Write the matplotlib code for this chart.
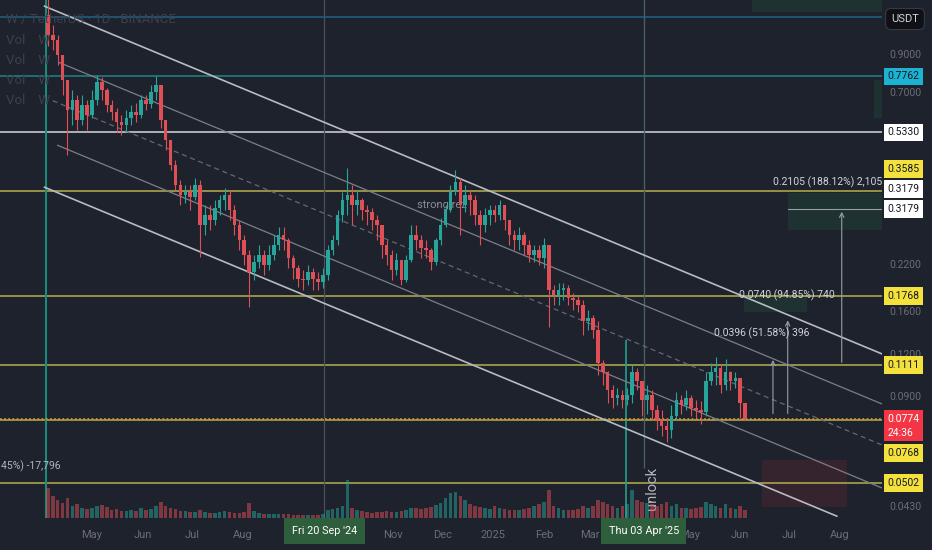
import numpy as np
import pandas as pd
import matplotlib
matplotlib.use("Agg")
import matplotlib.pyplot as plt
import matplotlib.dates as mdates
from matplotlib import font_manager
from matplotlib.patches import Rectangle
from matplotlib.ticker import FixedLocator, NullLocator, FixedFormatter

plt.rcParams['font.family'] = ['Roboto', 'DejaVu Sans']
names = {f.name for f in font_manager.fontManager.ttflist}
NARROW = 'Liberation Sans Narrow' if 'Liberation Sans Narrow' in names else 'Roboto'

BG = '#1e222d'
UP = '#26a69a'
DOWN = '#e04f56'
YEL = '#aaa44c'
TXT = '#6a6d78'

# W/USDT, 3-day candles (Binance)
first_open = 1.17
closes = [1.025, 0.991, 0.896, 0.757, 0.619, 0.662, 0.578, 0.640, 0.598, 0.662,
          0.747, 0.708, 0.640, 0.611, 0.570, 0.559, 0.586, 0.611, 0.598, 0.662,
          0.644, 0.698, 0.732, 0.578, 0.506, 0.427, 0.373, 0.349, 0.356, 0.344,
          0.373, 0.285, 0.305, 0.295, 0.320, 0.338, 0.349, 0.316, 0.285, 0.258,
          0.233, 0.208, 0.222, 0.233, 0.218, 0.233, 0.249, 0.267, 0.258, 0.228,
          0.213, 0.199, 0.197, 0.208, 0.199, 0.194, 0.204, 0.241, 0.258, 0.305,
          0.338, 0.349, 0.326, 0.338, 0.316, 0.311, 0.295, 0.285, 0.249, 0.233,
          0.211, 0.225, 0.197, 0.225, 0.267, 0.258, 0.244, 0.241, 0.222, 0.258,
          0.285, 0.316, 0.356, 0.381, 0.326, 0.349, 0.338, 0.305, 0.285, 0.305,
          0.316, 0.305, 0.326, 0.295, 0.267, 0.258, 0.267, 0.249, 0.233, 0.241,
          0.228, 0.249, 0.184, 0.178, 0.184, 0.187, 0.174, 0.172, 0.166, 0.150,
          0.153, 0.141, 0.113, 0.106, 0.094, 0.089, 0.091, 0.088, 0.091, 0.106,
          0.100, 0.088, 0.091, 0.082, 0.077, 0.074, 0.072, 0.079, 0.088, 0.085,
          0.089, 0.083, 0.082, 0.081, 0.100, 0.106, 0.109, 0.097, 0.106, 0.100,
          0.102, 0.086, 0.0774]
highs = [1.45, 1.096, 1.025, 0.896, 0.757, 0.708, 0.685, 0.685, 0.662, 0.708,
         0.783, 0.772, 0.718, 0.662, 0.626, 0.598, 0.619, 0.640, 0.648, 0.685,
         0.685, 0.732, 0.778, 0.708, 0.578, 0.506, 0.442, 0.386, 0.373, 0.373,
         0.391, 0.386, 0.326, 0.326, 0.338, 0.349, 0.366, 0.361, 0.326, 0.295,
         0.267, 0.241, 0.233, 0.249, 0.241, 0.249, 0.267, 0.281, 0.281, 0.262,
         0.233, 0.218, 0.211, 0.218, 0.213, 0.208, 0.213, 0.249, 0.267, 0.316,
         0.356, 0.419, 0.373, 0.361, 0.342, 0.326, 0.320, 0.305, 0.285, 0.258,
         0.241, 0.237, 0.222, 0.233, 0.285, 0.285, 0.267, 0.258, 0.244, 0.262,
         0.299, 0.326, 0.373, 0.413, 0.391, 0.373, 0.361, 0.349, 0.316, 0.320,
         0.326, 0.326, 0.338, 0.326, 0.295, 0.276, 0.281, 0.272, 0.258, 0.249,
         0.249, 0.262, 0.249, 0.191, 0.193, 0.193, 0.191, 0.181, 0.178, 0.172,
         0.161, 0.156, 0.150, 0.115, 0.107, 0.097, 0.095, 0.094, 0.095, 0.111,
         0.109, 0.100, 0.097, 0.094, 0.085, 0.082, 0.078, 0.085, 0.093, 0.091,
         0.094, 0.091, 0.088, 0.087, 0.106, 0.113, 0.117, 0.111, 0.116, 0.107,
         0.106, 0.102, 0.086]
lows = [0.95, 0.927, 0.838, 0.685, 0.457, 0.559, 0.541, 0.559, 0.541, 0.586,
        0.640, 0.662, 0.611, 0.578, 0.534, 0.524, 0.534, 0.559, 0.570, 0.586,
        0.619, 0.626, 0.662, 0.548, 0.473, 0.413, 0.361, 0.326, 0.331, 0.316,
        0.338, 0.230, 0.267, 0.276, 0.285, 0.305, 0.316, 0.295, 0.267, 0.241,
        0.218, 0.164, 0.197, 0.213, 0.204, 0.211, 0.225, 0.241, 0.241, 0.213,
        0.199, 0.188, 0.184, 0.191, 0.184, 0.184, 0.187, 0.197, 0.233, 0.249,
        0.291, 0.305, 0.285, 0.305, 0.295, 0.285, 0.276, 0.258, 0.228, 0.218,
        0.197, 0.204, 0.191, 0.194, 0.222, 0.241, 0.228, 0.228, 0.211, 0.218,
        0.249, 0.281, 0.311, 0.349, 0.267, 0.311, 0.305, 0.285, 0.249, 0.272,
        0.285, 0.291, 0.295, 0.276, 0.249, 0.241, 0.241, 0.233, 0.222, 0.222,
        0.218, 0.213, 0.144, 0.166, 0.166, 0.172, 0.166, 0.161, 0.159, 0.136,
        0.141, 0.133, 0.104, 0.097, 0.086, 0.083, 0.085, 0.083, 0.085, 0.086,
        0.094, 0.079, 0.080, 0.077, 0.072, 0.069, 0.066, 0.068, 0.077, 0.080,
        0.082, 0.079, 0.078, 0.075, 0.079, 0.097, 0.097, 0.092, 0.094, 0.094,
        0.095, 0.078, 0.077]
# volume, millions of W per bar
volumes = [30, 22, 18, 15, 20, 12, 14, 10, 9, 10,
           12, 13, 11, 8, 9, 7, 7, 8, 7, 10,
           8, 9, 12, 16, 12, 10, 9, 7, 7, 6,
           6, 8, 6, 5, 5, 6, 7, 6, 5, 5,
           6, 15, 7, 5, 4, 4, 4, 4, 4, 4,
           3, 3, 3, 3, 3, 3, 4, 8, 9, 10,
           12, 38, 10, 8, 7, 6, 5, 6, 6, 7,
           6, 6, 7, 8, 10, 10, 9, 10, 11, 13,
           15, 20, 25, 26, 22, 18, 14, 12, 11, 10,
           9, 12, 10, 9, 8, 8, 8, 9, 10, 12,
           14, 16, 28, 12, 10, 8, 8, 8, 9, 12,
           10, 12, 18, 16, 14, 12, 10, 12, 14, 28,
           18, 16, 15, 14, 12, 14, 16, 12, 14, 10,
           10, 9, 10, 11, 16, 14, 12, 10, 14, 10,
           9, 12, 8]
dates = pd.date_range('2024-04-04', periods=len(closes), freq='3D')

# horizontal levels: price, colour
levels = [(1.157, '#1d5e7e'), (0.7762, '#1f7c84'), (0.5330, '#c7c9cf'),
          (0.3585, YEL), (0.1768, YEL), (0.1111, YEL), (0.0768, YEL), (0.0502, YEL)]
last_price = 0.0774

# descending channel: start, end, colour, width, style
channel = [(('2024-04-02', 1.245), ('2025-08-27', 0.1196), '#b9bbc2', 1.2, '-'),
           (('2024-04-11', 0.852), ('2025-08-27', 0.0854), '#7c7f88', 0.9, '-'),
           (('2024-04-07', 0.659), ('2025-08-27', 0.0648), '#656872', 0.9, (0, (4, 3))),
           (('2024-04-10', 0.488), ('2025-08-27', 0.0485), '#7c7f88', 0.9, '-'),
           (('2024-04-02', 0.368), ('2025-07-30', 0.0402), '#b9bbc2', 1.2, '-')]

# right-axis price tags: price, text, face, text colour, shift (px, up +)
tags = [(0.7762, '0.7762', '#1cb3d3', '#131722', 0),
        (0.5330, '0.5330', '#ffffff', '#131722', 0),
        (0.3585, '0.3585', '#f5e13c', '#131722', 22),
        (0.3179, '0.3179', '#ffffff', '#131722', 20),
        (0.3179, '0.3179', '#ffffff', '#131722', 0),
        (0.1768, '0.1768', '#f5e13c', '#131722', 0),
        (0.1111, '0.1111', '#f5e13c', '#131722', 0),
        (0.0774, '0.0774\n24:36', '#f23645', '#ffffff', -7),
        (0.0768, '0.0768', '#f5e13c', '#131722', -33),
        (0.0502, '0.0502', '#f5e13c', '#131722', 0)]

# price-range measurements: date, from, to, label, label date, label price
measures = [('2025-08-02', 0.1111, 0.3179, '0.2105 (188.12%) 2,105', '2025-08-27', 0.381),
            ('2025-06-30', 0.0787, 0.153, '0.0740 (94.85%) 740', '2025-07-29', 0.1775),
            ('2025-06-21', 0.0787, 0.1172, '0.0396 (51.58%) 396', '2025-07-13', 0.1375)]

# shaded boxes: start, end, low, high, colour
boxes = [('2025-06-08', '2025-08-28', 1.196, 1.40, '#1f6b45'),
         ('2025-08-22', '2025-08-28', 0.586, 0.757, '#1f6b45'),
         ('2025-06-30', '2025-08-28', 0.276, 0.354, '#1f6b45'),
         ('2025-06-03', '2025-07-12', 0.159, 0.177, '#1f6b45'),
         ('2025-06-14', '2025-08-05', 0.0427, 0.0586, '#8a2c35')]

price_ticks = [0.043, 0.09, 0.12, 0.16, 0.22, 0.70, 0.90]

fig = plt.figure(figsize=(9.32, 5.5), dpi=100, facecolor=BG)
ax = fig.add_axes([0, 32 / 550, 882 / 932, 518 / 550])
ax.set_facecolor(BG)
ax.set_yscale('log')

opens = [first_open] + closes[:-1]
o = np.array(opens)
c = np.array(closes)
h = np.maximum(np.array(highs), np.maximum(o, c))
l = np.minimum(np.array(lows), np.minimum(o, c))
col = np.where(c >= o, UP, DOWN)
x = mdates.date2num(dates)

# volume underneath
vax = ax.twinx()
vax.bar(x, volumes, width=2.2, color=col, alpha=0.5, zorder=1)
vax.set_ylim(0, 518)
vax.set_yticks([])
for s in vax.spines.values():
    s.set_visible(False)

# levels
for p, cl in levels:
    ax.axhline(p, color=cl, lw=1.2, zorder=2)
ax.axhline(last_price, color='#e39a2f', lw=1.2, ls=(0, (1, 1.5)), zorder=3)

# verticals
ax.axvline(pd.Timestamp('2024-04-03'), color='#1c8a78', lw=1.5, zorder=2)
ax.axvline(pd.Timestamp('2024-09-20'), color='#4b4f5b', lw=0.9, zorder=2)
ax.vlines(pd.Timestamp('2025-03-23'), 0.03, 0.1315, color='#22a08c', lw=1.2, zorder=2)
ax.vlines(pd.Timestamp('2025-04-03'), 0.0555, 2.0, color='#46615e', lw=1.0, zorder=2)

# channel
for (d0, p0), (d1, p1), cl, lw, ls in channel:
    ax.plot([pd.Timestamp(d0), pd.Timestamp(d1)], [p0, p1], color=cl, lw=lw, ls=ls, zorder=3)

# boxes
for d0, d1, lo, hi, cl in boxes:
    x0 = mdates.date2num(pd.Timestamp(d0))
    x1 = mdates.date2num(pd.Timestamp(d1))
    ax.add_patch(Rectangle((x0, lo), x1 - x0, hi - lo, fc=cl, ec='none', alpha=0.22, zorder=1))

# candles
ax.vlines(x, l, h, colors=col, lw=0.8, zorder=4)
ax.bar(x, np.abs(c - o), bottom=np.minimum(o, c), width=2.2, color=col, zorder=5)

# measurements
for d, p0, p1, txt, td, tp in measures:
    t = pd.Timestamp(d)
    ax.annotate('', xy=(t, p1), xytext=(t, p0),
                arrowprops=dict(arrowstyle='->', color='#9a9da6', lw=0.8, mutation_scale=8), zorder=6)
    ax.text(pd.Timestamp(td), tp, txt, ha='right', va='center', color='#d1d4dc', fontsize=7.5,
            family=[NARROW, 'DejaVu Sans'], zorder=7)
ax.plot([pd.Timestamp('2025-06-30'), pd.Timestamp('2025-08-28')], [0.3179, 0.3179], color='#9a9da6', lw=0.8, zorder=6)
fig.text(1 / 932, 1 - 466 / 550, '45%) -17,796', ha='left', va='center',
         color='#b2b5be', fontsize=7.5, family=[NARROW, 'DejaVu Sans'])

ax.text(pd.Timestamp('2024-12-01'), 0.326, 'strong rez', ha='center', va='center', color='#8b8e97', fontsize=8, zorder=3)
ax.text(pd.Timestamp('2025-04-08'), 0.0485, 'unlock', ha='center', va='center', rotation=90,
        color='#b2b5be', fontsize=10.5, zorder=7)

# axes limits and ticks
base = mdates.date2num(pd.Timestamp('2024-04-03'))
ax.set_xlim(base - 28.2, base + 510.6)
ax.set_ylim(0.0397, 1.298)

# Sep, Oct 2024 and Apr 2025 sit under the crosshair date tags
months = [m for m in pd.date_range('2024-05-01', '2025-08-01', freq='MS')
          if (m.year, m.month) not in [(2024, 9), (2024, 10), (2025, 4)]]
ax.set_xticks(mdates.date2num(months))
ax.set_xticklabels(['2025' if m.month == 1 else m.strftime('%b') for m in months])
ax.yaxis.tick_right()
ax.yaxis.set_major_locator(FixedLocator(price_ticks))
ax.yaxis.set_major_formatter(FixedFormatter([f'{v:.4f}' for v in price_ticks]))
ax.yaxis.set_minor_locator(NullLocator())
ax.tick_params(axis='both', length=0, colors=TXT, labelsize=7.5)
ax.tick_params(axis='x', pad=9, labelsize=8)
ax.tick_params(axis='y', pad=5)
for s in ax.spines.values():
    s.set_visible(False)

# price tags on the right scale
for p, txt, fc, tc, dy in tags:
    ax.annotate(txt, xy=(1, p), xycoords=('axes fraction', 'data'), xytext=(4, dy * 0.72),
                textcoords='offset points', ha='left', va='center', fontsize=7.5, color=tc,
                linespacing=1.5, annotation_clip=False, zorder=10,
                bbox=dict(boxstyle='square,pad=0.35', fc=fc, ec='none'))

# crosshair date tags
for d, txt in [('2024-09-20', "Fri 20 Sep '24"), ('2025-04-03', "Thu 03 Apr '25")]:
    ax.annotate(txt, xy=(pd.Timestamp(d), 0), xycoords=('data', 'axes fraction'), xytext=(0, -13 * 0.72),
                textcoords='offset points', ha='center', va='center', fontsize=7.8, color='#ffffff',
                annotation_clip=False, zorder=10,
                bbox=dict(boxstyle='square,pad=0.7', fc='#2f5e3d', ec='none'))

# legend text, top-left
fig.text(6 / 932, 1 - 20 / 550, 'W / TetherUS · 1D · BINANCE', color='#3c404b', fontsize=9.5, va='center')
for k in range(4):
    fig.text(6 / 932, 1 - (40 + 20 * k) / 550, 'Vol    W', color='#3c404b', fontsize=9.5, va='center')

fig.text(905 / 932, 1 - 19 / 550, 'USDT', color='#d1d4dc', fontsize=8, ha='center', va='center',
         bbox=dict(boxstyle='round,pad=0.5', fc='#0f1116', ec='#363a45', lw=0.8))

fig.savefig('out.png', dpi=100, facecolor=BG)
